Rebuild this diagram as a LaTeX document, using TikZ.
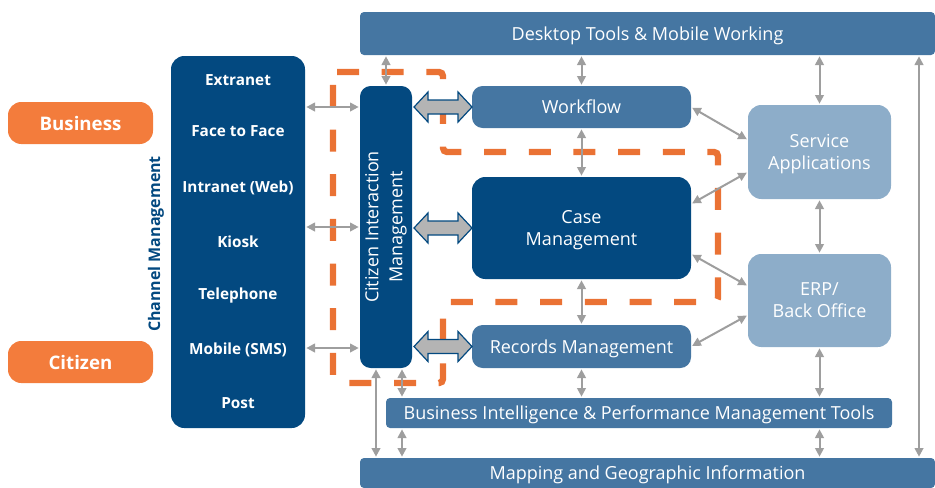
\documentclass[tikz,border=0pt]{standalone}
\usepackage{fontspec}
\setmainfont{Open Sans}
\usetikzlibrary{arrows.meta}

\definecolor{darkblue}{RGB}{3,73,128}
\definecolor{midblue}{RGB}{69,118,162}
\definecolor{lightblue}{RGB}{141,173,201}
\definecolor{boxorange}{RGB}{243,124,60}
\definecolor{dashorange}{RGB}{234,114,52}
\definecolor{linkgray}{RGB}{158,158,158}
\definecolor{arrowfill}{RGB}{180,180,180}

\begin{document}
\begin{tikzpicture}[x=0.75pt,y=-0.75pt,
    box/.style={rounded corners=8pt,inner sep=0pt,outer sep=0pt,text=white,align=center,
                text depth=0pt,font=\fontsize{13.5}{16.5}\selectfont},
    sz/.style 2 args={minimum width=#1*0.75pt,minimum height=#2*0.75pt},
    bar/.style={box,fill=midblue,rounded corners=3pt},
    chanitem/.style={text=white,font=\bfseries\fontsize{11.5}{14}\selectfont},
    actor/.style={box,fill=boxorange,rounded corners=10pt,font=\bfseries\fontsize{14}{17}\selectfont},
    link/.style={linkgray,line width=1.5pt,>={Triangle[length=6.5pt,width=6.5pt]},<->,
                 shorten <=1pt,shorten >=1pt},
    bigarrow/.style={fill=arrowfill,draw=darkblue,line width=0.9pt,line join=miter},
    boundary/.style={dashorange,line width=4.8pt,dash pattern=on 16.5pt off 17pt,rounded corners=3pt}]

  \useasboundingbox (0,0) rectangle (935,487);

  % Boundary
  \draw[boundary] (333,72) -- (443,72) -- (443,152) -- (718,152) -- (718,302)
                  -- (443,302) -- (443,383) -- (333,383) -- cycle;

  % Bars
  \node[bar,sz={575}{43}] (desk) at (647.5,33.5) {Desktop Tools \& Mobile Working};
  \node[bar,sz={575}{30}] (map) at (647.5,473) {Mapping and Geographic Information};
  \node[bar,sz={506}{30}] (bi) at (639,413) {Business Intelligence \& Performance Management Tools};

  % Actors
  \node[actor,sz={145}{42}] (business) at (80.5,123) {Business};
  \node[actor,sz={145}{42}] (citizen) at (80.5,362) {Citizen};

  % Channels
  \node[box,fill=darkblue,rounded corners=10pt,sz={134}{372}] (chan) at (238,242) {};
  \node[rotate=90,text=darkblue,font=\bfseries\fontsize{12}{14}\selectfont] (chanlabel) at (156,244) {Channel Management};
  \foreach \name/\y in {Extranet/80,Face to Face/131,Intranet (Web)/188,Kiosk/242,
                        Telephone/296,Mobile (SMS)/350,Post/403}
    \node[chanitem] at (238,\y) {\name};

  % Core
  \node[box,fill=darkblue,sz={52}{282}] (cim) at (386,227) {};
  \node[rotate=90,text=white,align=center,font=\fontsize{13.5}{18}\selectfont] (cimlabel) at (cim) {Citizen Interaction\\Management};
  \node[box,fill=midblue,sz={219}{42}] (wf) at (581.5,107) {Workflow};
  \node[box,fill=darkblue,rounded corners=10pt,sz={219}{102}] (case) at (581.5,228) {Case\\Management};
  \node[box,fill=midblue,sz={219}{43}] (rec) at (581.5,346.5) {Records Management};

  % Back end
  \node[box,fill=lightblue,rounded corners=10pt,sz={143}{94}] (svc) at (819.5,152) {Service\\Applications};
  \node[box,fill=lightblue,rounded corners=10pt,sz={143}{93}] (erp) at (819.5,300.5) {ERP/\\Back Office};

  % Channel links
  \foreach \y in {107,227,348}
    \draw[link] (chan.east |- 0,\y) -- (cim.west |- 0,\y);

  % Big arrows
  \foreach \t in {wf,case,rec}
    \draw[bigarrow] (cim.east |- \t.west) ++(2,0) -- ++(14,-15) -- ++(0,8) -- ++(30,0)
      -- ++(0,-8) -- ++(14,15) -- ++(-14,15) -- ++(0,-8) -- ++(-30,0) -- ++(0,8) -- cycle;

  % Vertical links
  \draw[link] (cim.north) -- (desk.south -| cim.north);
  \draw[link] (wf.north) -- (desk.south -| wf.north);
  \draw[link] (wf.south) -- (case.north);
  \draw[link] (case.south) -- (rec.north);
  \draw[link] (rec.south) -- (bi.north -| rec.south);
  \draw[link] (cim.south -| 376,0) -- (map.north -| 376,0);
  \draw[link] (cim.south -| 402,0) -- (bi.north -| 402,0);
  \draw[link] (bi.south -| 402,0) -- (map.north -| 402,0);
  \draw[link] (svc.north) -- (desk.south -| svc.north);
  \draw[link] (svc.south) -- (erp.north);
  \draw[link] (erp.south) -- (bi.north -| erp.south);
  \draw[link] (bi.south -| erp.south) -- (map.north -| erp.south);
  \draw[link] (desk.south -| 919,0) -- (map.north -| 919,0);

  % Diagonal links
  \draw[link] (wf.east) -- (svc.west |- 0,140);
  \draw[link] (case.east |- 0,204) -- (svc.west |- 0,172);
  \draw[link] (case.east |- 0,254) -- (erp.west |- 0,286);
  \draw[link] (rec.east) -- (erp.west |- 0,315);
\end{tikzpicture}
\end{document}
